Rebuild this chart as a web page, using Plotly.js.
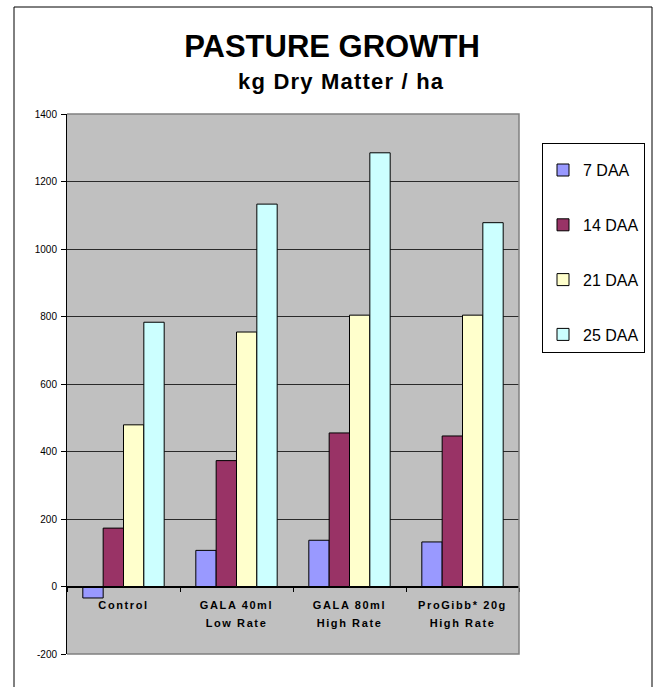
<!DOCTYPE html>
<html><head><meta charset="utf-8">
<script src="https://cdn.plot.ly/plotly-3.0.1.min.js"></script>
<style>
html,body{margin:0;padding:0;background:#fff}
#chart{width:659px;height:687px}
.xtick text{letter-spacing:1.6px}
.annotation-text{letter-spacing:1.2px}
</style>
</head><body><div id="chart"></div>
<script>
const categories = ["Control", "GALA 40ml<br>Low Rate", "GALA 80ml<br>High Rate", "ProGibb* 20g<br>High Rate"];
const seriesNames = ["7 DAA", "14 DAA", "21 DAA", "25 DAA"];
const daa7 = [-34, 107, 137, 132];
const daa14 = [173, 373, 455, 446];
const daa21 = [479, 754, 804, 804];
const daa25 = [783, 1133, 1285, 1078];
const yTicks = [-200, 0, 200, 400, 600, 800, 1000, 1200, 1400];
const titleText = "PASTURE GROWTH";
const subtitleText = "kg Dry Matter / ha";

const seriesValues = [daa7, daa14, daa21, daa25];
const colors = ["#9999FF", "#993366", "#FFFFCC", "#CCFFFF"];
const FONT = "Liberation Sans, Arial, sans-serif";

const traces = seriesNames.map((name, i) => ({
  type: "bar",
  name: name,
  x: categories,
  y: seriesValues[i],
  legendgroup: name,
  marker: {color: colors[i], line: {color: "#000", width: 1}},
  hoverinfo: "skip"
}));

const W = 452, H = 540, L = 67, T = 114;
function px(x) { return (x - L) / W; }
function py(y) { return (T + H - y) / H; }

const layout = {
  width: 659, height: 687,
  margin: {l: L, r: 659 - L - W, t: T, b: 687 - T - H, pad: 0},
  paper_bgcolor: "#fff",
  plot_bgcolor: "#C0C0C0",
  font: {family: FONT, color: "#000"},
  barmode: "group",
  bargap: 0.28,
  bargroupgap: 0,
  title: {
    text: "<b>" + titleText + "</b>",
    font: {family: FONT, size: 31, color: "#000"},
    xref: "container", yref: "container",
    x: 332 / 659, xanchor: "center",
    y: 1 - 46.5 / 687, yanchor: "middle"
  },
  annotations: [{
    text: "<b>" + subtitleText + "</b>",
    font: {family: FONT, size: 22, color: "#000"},
    xref: "paper", yref: "paper",
    x: px(341), y: py(82), xanchor: "center", yanchor: "middle",
    showarrow: false
  }],
  xaxis: {
    type: "category",
    anchor: "free",
    position: 200 / 1600,
    showline: true, linecolor: "#000", linewidth: 1,
    ticks: "outside", tickson: "boundaries", ticklen: 4, tickcolor: "#000",
    ticklabelstandoff: 8,
    tickfont: {family: FONT, size: 11, color: "#000", weight: "bold"},
    showgrid: false, zeroline: false,
    fixedrange: true
  },
  yaxis: {
    range: [-200, 1400],
    tickvals: yTicks,
    ticktext: yTicks.map(String),
    showline: true, linecolor: "#000", linewidth: 1,
    ticks: "outside", ticklen: 5, tickcolor: "#000",
    ticklabelstandoff: 2,
    tickfont: {family: FONT, size: 10, color: "#000"},
    showgrid: true, gridcolor: "#2a2a2a", gridwidth: 1,
    zeroline: true, zerolinecolor: "#000", zerolinewidth: 1,
    fixedrange: true
  },
  legend: {
    x: px(542), y: py(143), xanchor: "left", yanchor: "top",
    bgcolor: "#fff", bordercolor: "#000", borderwidth: 1,
    font: {family: FONT, size: 16, color: "#000"},
    title: {text: "&nbsp;", font: {size: 7}},
    traceorder: "grouped", tracegroupgap: 31,
    itemclick: false, itemdoubleclick: false
  },
  shapes: [
    {type: "path", xref: "paper", yref: "paper", path: "M 0 1 L 1 1 L 1 0 L 0 0",
     line: {color: "#808080", width: 1.5}, layer: "above"},
    {type: "rect", xref: "paper", yref: "paper",
     x0: px(14), x1: px(652), y0: py(720), y1: py(7),
     line: {color: "#000", width: 1}, fillcolor: "rgba(0,0,0,0)", layer: "above"}
  ]
};

Plotly.newPlot("chart", traces, layout, {displayModeBar: false, staticPlot: true}).then(gd => {
  gd.querySelectorAll(".xtick text tspan.line").forEach(t => {
    const prev = t.previousElementSibling;
    if (prev && prev.classList.contains("line")) t.setAttribute("dy", "1.7em");
  });
});
</script>
</body></html>
